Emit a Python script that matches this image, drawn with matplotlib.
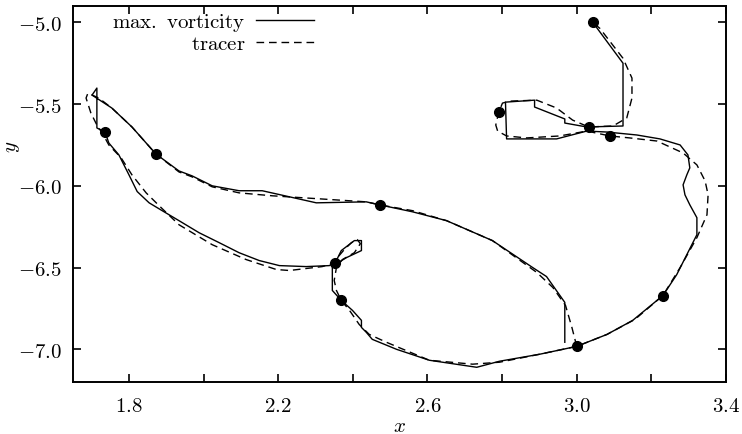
import matplotlib
matplotlib.use("Agg")
import matplotlib.pyplot as plt
from matplotlib.ticker import FixedLocator, FuncFormatter

plt.rcParams['mathtext.fontset'] = 'cm'
plt.rcParams['font.family'] = ['DejaVu Serif']

# max. vorticity trajectory (solid)
vort_x = [2.968, 2.968, 2.919, 2.882, 2.774, 2.651, 2.560, 2.471, 2.436, 2.302,
          2.157, 2.095, 2.023, 1.969, 1.934, 1.872, 1.808, 1.754, 1.701, 1.714,
          1.714, 1.736, 1.746, 1.773, 1.800, 1.822, 1.854, 1.889, 1.934, 1.988,
          2.042, 2.095, 2.149, 2.203, 2.275, 2.337, 2.353, 2.369, 2.404, 2.423,
          2.423, 2.383, 2.356, 2.345, 2.345, 2.369, 2.399, 2.423, 2.423, 2.436,
          2.452, 2.517, 2.605, 2.732, 2.793, 2.901, 3.000, 3.081, 3.150, 3.231,
          3.268, 3.295, 3.322, 3.322, 3.303, 3.290, 3.285, 3.295, 3.303, 3.298,
          3.277, 3.223, 3.161, 3.081, 3.027, 2.946, 2.812, 2.809, 2.887, 2.887,
          2.968, 2.968, 3.027, 3.124, 3.124, 3.043]
vort_y = [-6.957, -6.713, -6.555, -6.500, -6.335, -6.213, -6.159, -6.116, -6.098, -6.104,
          -6.030, -6.030, -6.000, -5.939, -5.909, -5.805, -5.640, -5.524, -5.445, -5.402,
          -5.646, -5.671, -5.738, -5.811, -5.933, -6.035, -6.104, -6.152, -6.213, -6.287,
          -6.348, -6.409, -6.457, -6.488, -6.494, -6.488, -6.470, -6.396, -6.335, -6.335,
          -6.396, -6.439, -6.476, -6.500, -6.640, -6.701, -6.762, -6.823, -6.866, -6.896,
          -6.939, -7.000, -7.067, -7.110, -7.073, -7.030, -6.982, -6.909, -6.823, -6.671,
          -6.543, -6.421, -6.299, -6.195, -6.116, -6.055, -5.994, -5.933, -5.890, -5.811,
          -5.750, -5.713, -5.689, -5.671, -5.665, -5.713, -5.713, -5.488, -5.476, -5.518,
          -5.591, -5.616, -5.640, -5.634, -5.250, -5.000]

# tracer trajectory (dashed)
tracer_x = [3.000, 2.987, 2.970, 2.936, 2.893, 2.774, 2.651, 2.560, 2.471, 2.436,
            2.184, 2.095, 2.023, 1.969, 1.934, 1.872, 1.808, 1.754, 1.719, 1.690,
            1.685, 1.698, 1.714, 1.730, 1.746, 1.779, 1.808, 1.846, 1.881, 1.934,
            2.023, 2.114, 2.195, 2.230, 2.318, 2.345, 2.377, 2.396, 2.412, 2.420,
            2.404, 2.372, 2.356, 2.350, 2.356, 2.369, 2.391, 2.417, 2.444, 2.490,
            2.605, 2.721, 2.793, 2.901, 3.000, 3.081, 3.156, 3.231, 3.277, 3.322,
            3.349, 3.352, 3.344, 3.322, 3.285, 3.215, 3.142, 3.089, 3.027, 2.954,
            2.866, 2.812, 2.788, 2.783, 2.791, 2.801, 2.820, 2.893, 2.946, 2.989,
            3.032, 3.097, 3.134, 3.148, 3.148, 3.124, 3.062, 3.043]
tracer_y = [-6.982, -6.866, -6.732, -6.622, -6.530, -6.335, -6.213, -6.152, -6.116, -6.098,
            -6.061, -6.043, -6.006, -5.945, -5.915, -5.805, -5.640, -5.524, -5.463, -5.433,
            -5.463, -5.555, -5.628, -5.683, -5.750, -5.829, -5.933, -6.043, -6.122, -6.238,
            -6.360, -6.451, -6.512, -6.518, -6.494, -6.476, -6.390, -6.348, -6.329, -6.354,
            -6.409, -6.451, -6.500, -6.579, -6.640, -6.701, -6.762, -6.848, -6.909, -6.957,
            -7.067, -7.091, -7.079, -7.030, -6.982, -6.909, -6.817, -6.671, -6.500, -6.317,
            -6.177, -6.055, -5.970, -5.872, -5.799, -5.726, -5.707, -5.695, -5.665, -5.695,
            -5.707, -5.695, -5.665, -5.628, -5.549, -5.494, -5.482, -5.476, -5.524, -5.598,
            -5.640, -5.634, -5.585, -5.463, -5.341, -5.220, -5.037, -5.000]

# marked positions (dots)
dot_x = [3.043, 2.791, 3.032, 3.089, 3.231, 3.000, 2.369, 2.353, 1.736, 1.872, 2.474]
dot_y = [-5.000, -5.549, -5.640, -5.695, -6.671, -6.982, -6.701, -6.470, -5.671, -5.805, -6.116]

xticks = [1.8, 2.0, 2.2, 2.4, 2.6, 2.8, 3.0, 3.2, 3.4]
xlabeled = [1.8, 2.2, 2.6, 3.0, 3.4]
yticks = [-7.0, -6.5, -6.0, -5.5, -5.0]

fig = plt.figure(figsize=(7.42, 4.35), dpi=100)
ax = fig.add_axes([73/742, 1 - 383/435, (726 - 73)/742, (383 - 7)/435])

ax.plot(vort_x, vort_y, color='black', lw=1.0, ls='-', label=r'$\mathrm{max.\ vorticity}$')
ax.plot(tracer_x, tracer_y, color='black', lw=1.0, ls=(0, (5.5, 3.5)), label=r'$\mathrm{tracer}$')
ax.plot(dot_x, dot_y, 'o', color='black', ms=7, ls='none')

ax.set_xlim(1.65, 3.40)
ax.set_ylim(-7.2, -4.9)

ax.xaxis.set_major_locator(FixedLocator(xticks))
ax.yaxis.set_major_locator(FixedLocator(yticks))

def xfmt(v, pos):
    for t in xlabeled:
        if abs(v - t) < 1e-6:
            return r'$%.1f$' % v
    return ''

ax.xaxis.set_major_formatter(FuncFormatter(xfmt))
ax.yaxis.set_major_formatter(FuncFormatter(lambda v, p: r'$%.1f$' % v))

ax.tick_params(axis='both', which='major', direction='in', length=6, width=1.2,
               top=True, right=True, labelsize=15)
ax.tick_params(axis='x', pad=10)
ax.tick_params(axis='y', pad=8)
for s in ax.spines.values():
    s.set_linewidth(1.4)

ax.set_xlabel(r'$x$', fontsize=15)
ax.set_ylabel(r'$y$', fontsize=15)
ax.xaxis.set_label_coords(0.5, -0.09)
ax.yaxis.set_label_coords(-0.078, 0.628)

leg = ax.legend(loc='upper left', bbox_to_anchor=(112/742, 1 - 12/435),
                bbox_transform=fig.transFigure, frameon=False, fontsize=15,
                markerfirst=False, handlelength=2.8, handletextpad=0.5,
                labelspacing=0.05, borderpad=0, borderaxespad=0)
for t in leg.get_texts():
    t.set_ha('right')
leg._legend_box.align = 'right'

fig.savefig('out.png', dpi=100)
